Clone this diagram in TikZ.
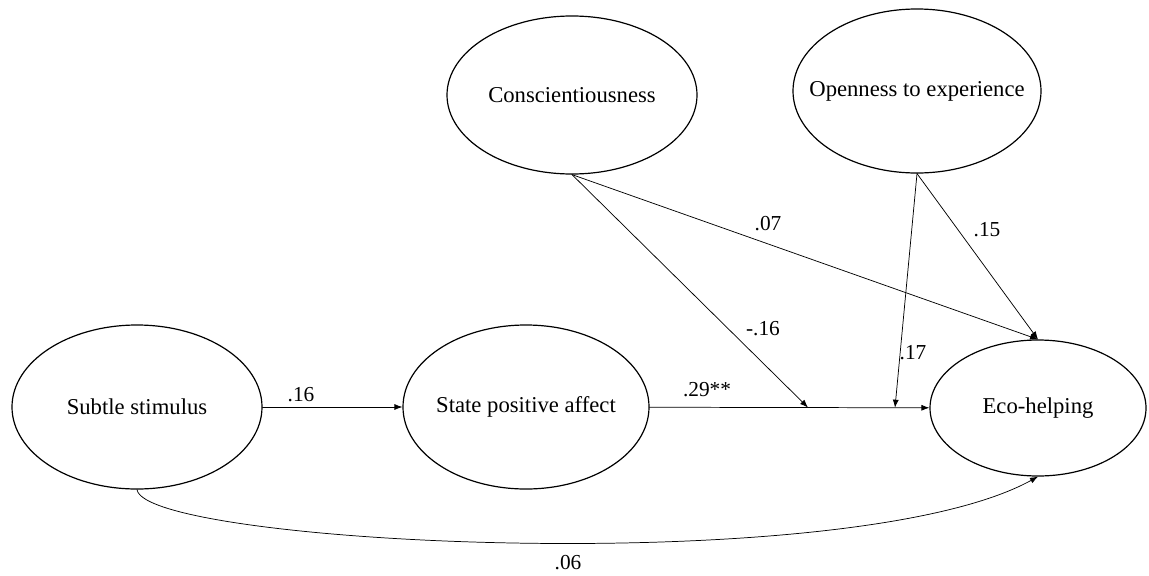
\documentclass[tikz,border=0pt]{standalone}
\usepackage{fontspec}
\setmainfont{Liberation Serif}
\usetikzlibrary{arrows.meta,shapes.geometric}

\newcommand{\lvtext}[1]{\makebox[0pt]{#1}}

\begin{document}
\begin{tikzpicture}[x=0.75pt, y=-0.75pt, >={Latex[length=6pt,width=4.5pt]}, line cap=round, line join=round,
	latent/.style={ellipse, draw, line width=0.9pt, inner sep=0pt, font=\fontsize{17}{20}\selectfont},
	link/.style={->, line width=0.55pt},
	coef/.style={inner sep=0pt, font=\fontsize{16}{19}\selectfont}]
	
	\useasboundingbox (0,0) rectangle (1149,575);
	
	% latent variables
	\node[latent, minimum width=187.5pt, minimum height=123pt] (subtle) at (137,407) {\lvtext{Subtle stimulus}};
	\node[latent, minimum width=184.5pt, minimum height=123pt] (state) at (526,407) {\lvtext{State positive affect}};
	\node[latent, minimum width=162pt, minimum height=102pt] (eco) at (1038,408) {\lvtext{Eco-helping}};
	\node[latent, minimum width=187.5pt, minimum height=118.5pt] (consc) at (572,95) {\lvtext{Conscientiousness}};
	\node[latent, minimum width=186pt, minimum height=123pt] (open) at (917,91) {\lvtext{Openness to experience}};
	
	% moderation points on the main path
	\coordinate (modC) at (808,407.5);
	\coordinate (modO) at (895,407.7);
	
	\draw[link] (subtle) -- (state);
	\draw[link] (state) -- (eco);
	\draw[link] (consc.south) -- (modC);
	\draw[link] (consc.south) -- (eco.north);
	\draw[link] (open.south) -- (modO);
	\draw[link] (open.south) -- (eco.north);
	\draw[link] (subtle.south) .. controls (145,545) and (850,580) .. (eco.south);
	
	% path coefficients
	\node[coef] (c16) at (301,395) {.16};
	\node[coef] (c29) at (707,390) {.29**};
	\node[coef] (cn16) at (763,329) {-.16};
	\node[coef] (c07) at (768,224) {.07};
	\node[coef] (c15) at (987,230) {.15};
	\node[coef] (c17) at (913,353) {.17};
	\node[coef] (c06) at (568,563) {.06};
	
\end{tikzpicture}
\end{document}
